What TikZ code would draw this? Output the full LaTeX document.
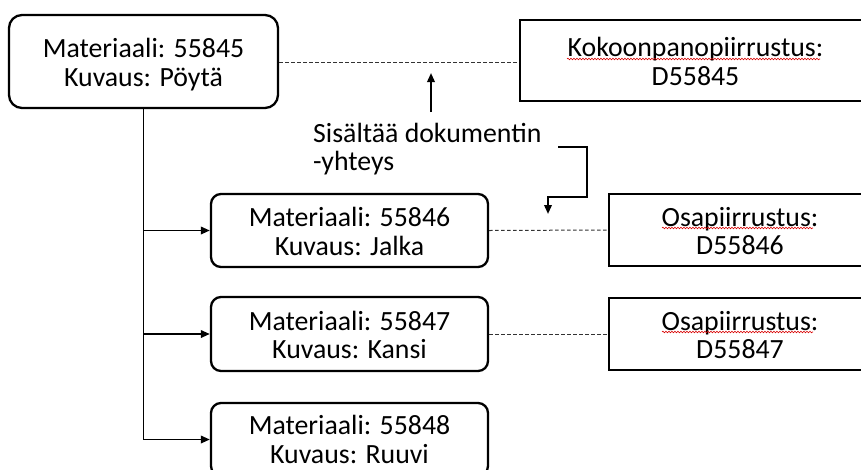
\documentclass[tikz,border=0pt]{standalone}
\usepackage{fontspec}
\setmainfont{Carlito}
\usetikzlibrary{arrows.meta,decorations.pathmorphing}
\begin{document}
\begin{tikzpicture}[x=1pt,y=-1pt,
  txt/.style={font=\fontsize{27.8}{28.5}\selectfont},
  matbox/.style={draw, line width=2.3pt, rounded corners=10pt, txt, align=center,
    inner sep=0pt, text height=52pt, text depth=3pt, minimum width=277pt, minimum height=73pt},
  docbox/.style={draw, line width=2.3pt, txt, align=center,
    inner sep=0pt, text height=52pt, text depth=3pt, minimum width=262pt, minimum height=72pt},
  link/.style={line width=1pt, black!80, dash pattern=on 3.5pt off 2.5pt},
  tree/.style={line width=1.9pt, -{Triangle[length=9pt,width=7.5pt]}},
  note/.style={line width=1.9pt, -{Triangle[length=9pt,width=7.5pt]}},
  spell/.style={red!85!black, line width=0.6pt, decorate,
    decoration={snake, amplitude=0.8pt, segment length=3pt}}]
\useasboundingbox (0,0) rectangle (861,469);
\clip (0,0) rectangle (861,469);

% assemblies and parts
\node[matbox, rounded corners=13pt, minimum width=269pt, minimum height=93pt] (n1) at (143.5,61.5)
  {Materiaali: 55845\\Kuvaus: Pöytä};
\node[matbox] (a) at (349.5,230.5) {Materiaali: 55846\\Kuvaus: Jalka};
\node[matbox, minimum height=74pt] (b) at (349.5,334) {Materiaali: 55847\\Kuvaus: Kansi};
% the last part runs past the lower edge; its label is a node of its own
\node[matbox] (c) at (349.5,439.5) {};
\node[txt, align=center, anchor=base, inner sep=0pt] (ct) at (349.5,463)
  {Materiaali: 55848\\Kuvaus: Ruuvi};

% drawings
\node[docbox, minimum width=351pt, minimum height=81pt] (k) at (695.5,60.5)
  {Kokoonpanopiirrustus:\\D55845};
\node[docbox] (d) at (740,230) {Osapiirrustus:\\D55846};
\node[docbox] (e) at (740,334) {Osapiirrustus:\\D55847};

% spelling marks under the drawing titles
\draw[spell] (567,59) -- (820,59);
\draw[spell] (662,228) -- (813,228);
\draw[spell] (662,332) -- (813,332);

% structure tree
\draw[tree] (n1.south) |- (c.west);
\draw[tree] (n1.south |- a.west) -- (a.west);
\draw[tree] (n1.south |- b.west) -- (b.west);

% document links
\draw[link] (n1.east |- 0,62) -- (k.west |- 0,62);
\draw[link] (a.east) -- (d.west);
\draw[link] (b.east) -- (e.west);

% explanation
\node[txt, align=left, anchor=base west, inner sep=0pt] (lbl) at (313,170.5)
  {Sisältää dokumentin\\-yhteys};
\coordinate (u0) at (431,112);
\coordinate (u1) at (431,73);
\draw[note] (u0) -- (u1);
\coordinate (b0) at (558,147);
\coordinate (b1) at (587,147);
\coordinate (b2) at (587,197);
\coordinate (b3) at (548,197);
\coordinate (b4) at (548,214);
\draw[note] (b0) -- (b1) -- (b2) -- (b3) -- (b4);
\end{tikzpicture}
\end{document}
